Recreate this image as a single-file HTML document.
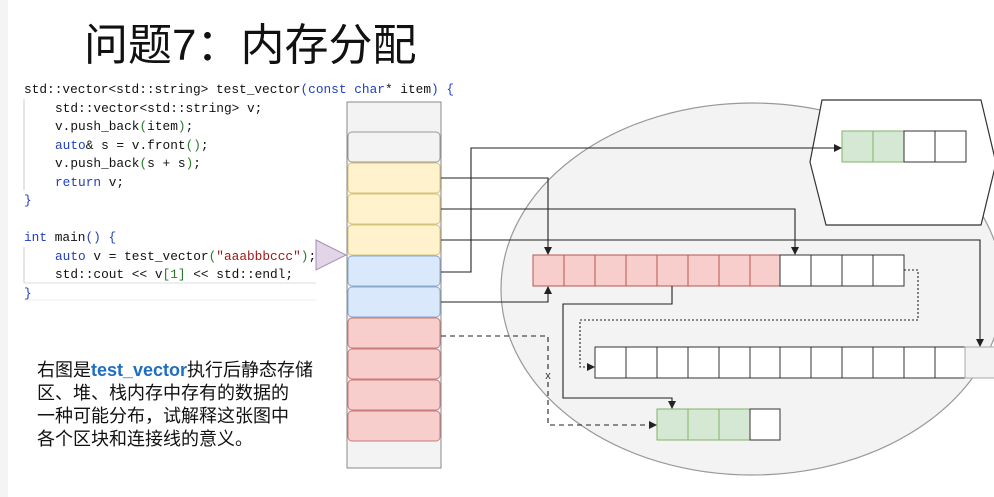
<!DOCTYPE html>
<html><head><meta charset="utf-8"><style>
html,body{margin:0;padding:0;background:#fff;}
svg{display:block;}
.code{font-family:"Liberation Mono",monospace;font-size:12.8px;fill:#111;}
.kw{fill:#1f3fbf;}
.gr{fill:#2a7a2a;}
.st{fill:#a31515;}
</style></head><body>
<svg width="994" height="497" viewBox="0 0 994 497" xmlns="http://www.w3.org/2000/svg">
<defs>
<marker id="a" markerWidth="8" markerHeight="8" refX="7" refY="4" orient="auto" markerUnits="userSpaceOnUse"><path d="M0,0 L8,4 L0,8 z" fill="#222"/></marker>
</defs>
<rect x="0" y="0" width="8" height="497" fill="#f4f4f4"/>
<text x="84" y="60" font-family="'Liberation Sans','Noto Sans CJK SC',sans-serif" font-size="44" fill="#111">问题7：内存分配</text>

<!-- code -->
<g class="code">
<text x="24" y="93">std::vector&lt;std::string&gt; test_vector<tspan class="kw">(const char</tspan>* item<tspan class="kw">) {</tspan></text>
<text x="55" y="112">std::vector&lt;std::string&gt; v;</text>
<text x="55" y="130">v.push_back<tspan class="gr">(</tspan>item<tspan class="gr">)</tspan>;</text>
<text x="55" y="149"><tspan class="kw">auto</tspan>&amp; s = v.front<tspan class="gr">()</tspan>;</text>
<text x="55" y="167">v.push_back<tspan class="gr">(</tspan>s + s<tspan class="gr">)</tspan>;</text>
<text x="55" y="186"><tspan class="kw">return</tspan> v;</text>
<text x="24" y="204" class="kw">}</text>
<text x="24" y="241"><tspan class="kw">int</tspan> main<tspan class="kw">() {</tspan></text>
<text x="55" y="260"><tspan class="kw">auto</tspan> v = test_vector<tspan class="gr">(</tspan><tspan class="st">"aaabbbccc"</tspan><tspan class="gr">)</tspan>;</text>
<text x="55" y="278">std::cout &lt;&lt; v<tspan class="gr">[1]</tspan> &lt;&lt; std::endl;</text>
<text x="24" y="297" class="kw">}</text>
</g>
<line x1="24" y1="99" x2="24" y2="190" stroke="#ccc"/>
<line x1="24" y1="247" x2="24" y2="283" stroke="#ccc"/>
<line x1="24" y1="283" x2="316" y2="283" stroke="#ddd"/>
<line x1="24" y1="300" x2="316" y2="300" stroke="#eee"/>

<!-- description -->
<g font-family="'Liberation Sans','Noto Sans CJK SC',sans-serif" font-size="18" fill="#111">
<text x="37" y="376">右图是<tspan fill="#1e6fc0" font-weight="bold">test_vector</tspan>执行后静态存储</text>
<text x="37" y="399">区、堆、栈内存中存有的数据的</text>
<text x="37" y="422">一种可能分布，试解释这张图中</text>
<text x="37" y="445">各个区块和连接线的意义。</text>
</g>

<!-- ellipse -->
<ellipse cx="752" cy="289" rx="251" ry="186" fill="#f3f3f3" stroke="#999" stroke-width="1.2"/>

<!-- hexagon -->
<polygon points="822,100 981,100 996,163 981,225 826,225 810,162" fill="#fff" stroke="#333" stroke-width="1.2"/>
<g stroke="#333" stroke-width="1">
<rect x="842" y="131" width="31" height="31" fill="#d5e8d4" stroke="#82b366"/>
<rect x="873" y="131" width="31" height="31" fill="#d5e8d4" stroke="#82b366"/>
<rect x="904" y="131" width="31" height="31" fill="#fff"/>
<rect x="935" y="131" width="31" height="31" fill="#fff"/>
</g>

<!-- stack column -->
<rect x="347" y="102" width="94" height="366" fill="#f3f3f3" stroke="#888"/>
<g stroke-width="1">
<rect x="348" y="132" width="92" height="30" rx="4" fill="#f3f3f3" stroke="#999"/>
<rect x="348" y="163" width="92" height="30" rx="4" fill="#fff2cc" stroke="#d6c27a"/>
<rect x="348" y="194" width="92" height="30" rx="4" fill="#fff2cc" stroke="#d6c27a"/>
<rect x="348" y="225" width="92" height="30" rx="4" fill="#fff2cc" stroke="#d6c27a"/>
<rect x="348" y="256" width="92" height="30" rx="4" fill="#dae8fc" stroke="#8aa7cc"/>
<rect x="348" y="287" width="92" height="30" rx="4" fill="#dae8fc" stroke="#8aa7cc"/>
<rect x="348" y="318" width="92" height="30" rx="4" fill="#f8cecc" stroke="#c97a78"/>
<rect x="348" y="349" width="92" height="30" rx="4" fill="#f8cecc" stroke="#c97a78"/>
<rect x="348" y="380" width="92" height="30" rx="4" fill="#f8cecc" stroke="#c97a78"/>
<rect x="348" y="411" width="92" height="30" rx="4" fill="#f8cecc" stroke="#c97a78"/>
</g>
<polygon points="316,240 346,255 316,270" fill="#e1d5e7" stroke="#a58fb5"/>

<!-- red array -->
<g stroke-width="1">
<rect x="533" y="255" width="31" height="31" fill="#f8cecc" stroke="#b85450"/>
<rect x="564" y="255" width="31" height="31" fill="#f8cecc" stroke="#b85450"/>
<rect x="595" y="255" width="31" height="31" fill="#f8cecc" stroke="#b85450"/>
<rect x="626" y="255" width="31" height="31" fill="#f8cecc" stroke="#b85450"/>
<rect x="657" y="255" width="31" height="31" fill="#f8cecc" stroke="#b85450"/>
<rect x="688" y="255" width="31" height="31" fill="#f8cecc" stroke="#b85450"/>
<rect x="719" y="255" width="31" height="31" fill="#f8cecc" stroke="#b85450"/>
<rect x="750" y="255" width="30" height="31" fill="#f8cecc" stroke="#b85450"/>
<rect x="780" y="255" width="31" height="31" fill="#fff" stroke="#333"/>
<rect x="811" y="255" width="31" height="31" fill="#fff" stroke="#333"/>
<rect x="842" y="255" width="31" height="31" fill="#fff" stroke="#333"/>
<rect x="873" y="255" width="31" height="31" fill="#fff" stroke="#333"/>
</g>

<!-- bottom long array -->
<g fill="#fff" stroke="#333">
<rect x="595" y="347" width="31" height="31"/><rect x="626" y="347" width="31" height="31"/>
<rect x="657" y="347" width="31" height="31"/><rect x="688" y="347" width="31" height="31"/>
<rect x="719" y="347" width="31" height="31"/><rect x="750" y="347" width="30" height="31"/>
<rect x="780" y="347" width="31" height="31"/><rect x="811" y="347" width="31" height="31"/>
<rect x="842" y="347" width="31" height="31"/><rect x="873" y="347" width="31" height="31"/>
<rect x="904" y="347" width="31" height="31"/><rect x="935" y="347" width="30" height="31"/>
</g>
<rect x="965" y="347" width="30" height="31" fill="#f3f3f3" stroke="#aaa"/>

<!-- green bottom -->
<rect x="657" y="409" width="31" height="31" fill="#d5e8d4" stroke="#82b366"/>
<rect x="688" y="409" width="31" height="31" fill="#d5e8d4" stroke="#82b366"/>
<rect x="719" y="409" width="31" height="31" fill="#d5e8d4" stroke="#82b366"/>
<rect x="750" y="409" width="30" height="31" fill="#fff" stroke="#333"/>

<!-- connectors -->
<g fill="none" stroke="#222" stroke-width="1.1">
<polyline points="441,178 548,178 548,254" marker-end="url(#a)"/>
<polyline points="441,209 795,209 795,254" marker-end="url(#a)"/>
<polyline points="441,240 980,240 980,346" marker-end="url(#a)"/>
<polyline points="441,272 471,272 471,148 841,148" marker-end="url(#a)"/>
<polyline points="441,302 548,302 548,287" marker-end="url(#a)"/>
<polyline points="672,286 672,304 563,304 563,398 672,398 672,408" marker-end="url(#a)"/>
<polyline points="441,336 548,336 548,425 656,425" stroke-dasharray="5,4" marker-end="url(#a)"/>
<polyline points="904,270 918,270 918,320 580,320 580,367 594,367" stroke-dasharray="2,2" marker-end="url(#a)"/>
</g>
<rect x="543" y="369" width="10" height="12" fill="#f3f3f3"/>
<text x="548" y="379" font-family="'Liberation Sans',sans-serif" font-size="11" fill="#333" text-anchor="middle">x</text>
</svg>
</body></html>
